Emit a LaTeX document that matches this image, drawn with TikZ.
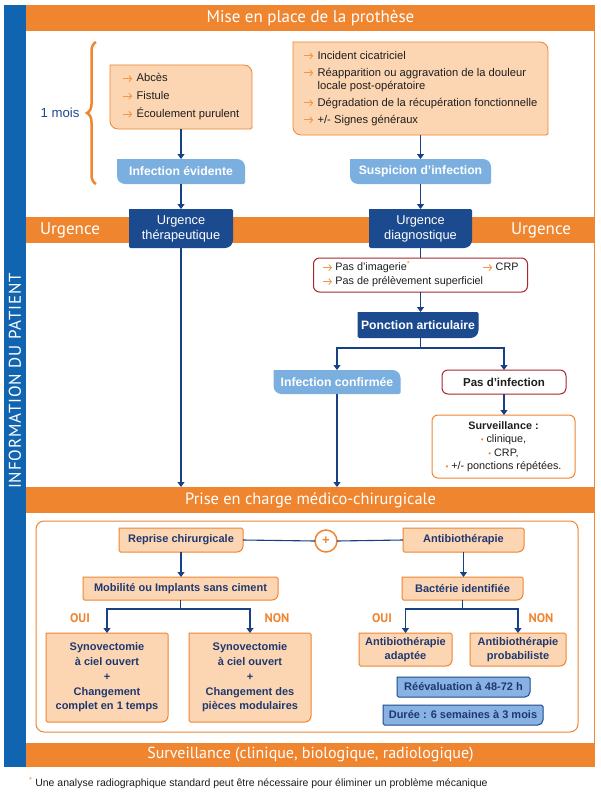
\documentclass[tikz,border=0pt]{standalone}
\usepackage{fontspec}
\setmainfont{Liberation Sans}
\newfontfamily\hdr{PT Sans}
\usetikzlibrary{arrows.meta,decorations.pathreplacing,calc}
\pgfdeclarelayer{bg}
\pgfdeclarelayer{boxes}
\pgfsetlayers{bg,boxes,main}
\definecolor{orbg}{RGB}{240,133,48}
\definecolor{orarr}{RGB}{243,150,70}
\definecolor{barblue}{RGB}{17,101,176}
\definecolor{dblue}{RGB}{28,74,142}
\definecolor{lblue}{RGB}{122,175,223}
\definecolor{lorange}{RGB}{252,214,178}
\definecolor{conn}{RGB}{24,64,132}
\definecolor{dred}{RGB}{172,38,44}
\definecolor{navy}{RGB}{32,56,112}
\definecolor{txt}{RGB}{30,30,30}
\definecolor{rblue}{RGB}{137,178,228}
\newcommand\ar{\tikz[x=1pt,y=1pt,baseline=-3.2pt]\draw[orarr,line width=0.9pt,-{Straight Barb[length=2.6pt,width=6pt]}] (0,0) -- (9,0);}
\newcommand\bul{\textcolor{orbg}{\fontsize{8}{8}\selectfont •}\ }
\newcommand\tlbr[3][8pt]{\begin{pgfonlayer}{boxes}\path[#3] (#2.west) -- (#2.north west) [rounded corners=#1] -- (#2.north east) [rounded corners=1.5pt] -- (#2.south east) [rounded corners=#1] -- (#2.south west) [rounded corners=1.5pt] -- cycle;\end{pgfonlayer}}
\newcommand\trbl[3][8pt]{\begin{pgfonlayer}{boxes}\path[#3] (#2.west) -- (#2.north west) [rounded corners=1.5pt] -- (#2.north east) [rounded corners=#1] -- (#2.south east) [rounded corners=1.5pt] -- (#2.south west) [rounded corners=#1] -- cycle;\end{pgfonlayer}}
\tikzset{
  every node/.style={inner sep=0pt,outer sep=0pt},
  sz/.style 2 args={minimum width=#1pt,minimum height=#2pt},
  band/.style={fill=orbg,minimum width=569pt,text=white,font=\hdr\fontsize{17}{20}\selectfont},
  link/.style={draw=conn,line width=1.1pt},
  linkarrow/.style={link,-{Triangle[width=7pt,length=5pt]}},
  listtxt/.style={text=txt,font=\fontsize{11.2}{13}\selectfont},
  whitebold/.style={text=white,font=\bfseries\fontsize{12.2}{14}\selectfont},
  whitereg/.style={text=white,align=center,font=\fontsize{12.8}{15}\selectfont},
  lobox/.style={text=navy,align=center,font=\bfseries\fontsize{11}{14.8}\selectfont},
  redbox/.style={draw=dred,fill=white,line width=1pt,rounded corners=6pt},
  yesno/.style={text=orbg,font=\hdr\bfseries\fontsize{12.5}{14}\selectfont},
}
\begin{document}
\begin{tikzpicture}[x=1pt,y=-1pt]
\useasboundingbox (0,0) rectangle (600,792);
\begin{pgfonlayer}{bg}
\fill[white] (0,0) rectangle (600,792);
\node[fill=barblue,sz={22}{762}] (bar) at (15,386) {};
\node[band,minimum height=26pt] (head) at (310.5,18) {Mise en place de la prothèse};
\node[band,minimum height=26pt] (urg) at (310.5,230) {};
\node[band,minimum height=26pt,font=\hdr\fontsize{16.4}{20}\selectfont] (prise) at (310.5,500) {Prise en charge médico-chirurgicale};
\node[band,minimum height=24pt,font=\hdr\fontsize{16}{20}\selectfont] (surv) at (310.5,755) {Surveillance (clinique, biologique, radiologique)};
\draw[orbg,line width=1pt] ([xshift=-0.5pt]head.south east) -- ([xshift=-0.5pt]surv.north east);
\node[draw=orbg,line width=1pt,rounded corners=8pt,fill=white,sz={542}{211}] (inner) at (307,626.5) {};
\end{pgfonlayer}

\node[rotate=90,text=white,font=\hdr\fontsize{17}{20}\selectfont\addfontfeature{LetterSpace=5}] (info) at (15,381) {INFORMATION DU PATIENT};
\node[text=white,font=\hdr\fontsize{17}{20}\selectfont] (urgL) at (70,230) {Urgence};
\node[text=white,font=\hdr\fontsize{17}{20}\selectfont] (urgR) at (541,230) {Urgence};

% brace and 1 mois
\node[text=dblue,font=\fontsize{13.2}{15}\selectfont] (mois) at (60,113) {1 mois};
\draw[orbg,line width=2.5pt,decorate,decoration={brace,amplitude=9pt}] (96,184) -- (96,42);

% top boxes
\node[listtxt,sz={142}{64}] (a1) at (181,97) {\begin{tabular}{@{}l@{\hspace{4pt}}l@{}}\ar & Abcès\\[4.5pt]\ar & Fistule\\[4.5pt]\ar & Écoulement purulent\end{tabular}};
\tlbr{a1}{fill=lorange,draw=orbg,line width=0.8pt}
\node[listtxt,sz={255}{93}] (a2) at (420.5,88.5) {\begin{tabular}{@{}l@{\hspace{4pt}}l@{}}\ar & Incident cicatriciel\\[4pt]\ar & Réapparition ou aggravation de la douleur\\ & locale post-opératoire\\[4pt]\ar & Dégradation de la récupération fonctionnelle\\[4pt]\ar & +/- Signes généraux\end{tabular}};
\tlbr{a2}{fill=lorange,draw=orbg,line width=0.8pt}

\node[whitebold,sz={128}{25}] (ie) at (181,171.5) {Infection évidente};
\tlbr{ie}{fill=lblue}
\node[whitebold,sz={141}{25}] (si) at (420.5,171.5) {Suspicion d’infection};
\tlbr{si}{fill=lblue}

\node[whitereg,sz={104}{39}] (ut) at (181,228.5) {Urgence\\thérapeutique};
\trbl{ut}{fill=dblue}
\node[whitereg,sz={103}{39}] (ud) at (420.5,228.5) {Urgence\\diagnostique};
\trbl{ud}{fill=dblue}

\node[redbox,text=txt,font=\fontsize{10.8}{14}\selectfont,sz={214}{34}] (rb) at (420.5,275) {\begin{tabular}{@{}l@{}}\makebox[196pt][l]{\ar\hspace{3pt}Pas d’imagerie\textsuperscript{\textcolor{orbg}{*}}\hfill\ar\hspace{3pt}CRP}\\\ar\hspace{3pt}Pas de prélèvement superficiel\end{tabular}};

\node[whitebold,sz={121}{26}] (pa) at (418,325) {Ponction articulaire};
\trbl{pa}{fill=dblue}

\node[whitebold,sz={127}{24}] (ic) at (337,382) {Infection confirmée};
\tlbr{ic}{fill=lblue}
\node[redbox,text=txt,font=\bfseries\fontsize{11.5}{14}\selectfont,sz={124}{24}] (pi) at (504,382) {Pas d’infection};

\node[draw=orbg,fill=white,line width=1pt,rounded corners=6pt,sz={143}{63},align=center,text=txt,font=\fontsize{10.8}{13.5}\selectfont] (sv) at (503.5,446.5) {\textbf{Surveillance :}\\\bul clinique,\\\bul CRP,\\\bul +/- ponctions répétées.};

% lower section
\node[lobox,sz={124}{24}] (rc) at (181,540) {Reprise chirurgicale};
\trbl[6pt]{rc}{fill=lorange,draw=orbg,line width=1pt}
\node[circle,draw=orbg,fill=white,line width=1.5pt,minimum size=22pt,text=orbg,font=\bfseries\fontsize{13}{13}\selectfont] (pl) at (326,541) {+};
\node[lobox,sz={121}{24}] (ab) at (463.5,540) {Antibiothérapie};
\trbl[6pt]{ab}{fill=lorange,draw=orbg,line width=1pt}
\node[lobox,sz={195}{23}] (mo) at (180.5,588.5) {Mobilité ou Implants sans ciment};
\trbl[6pt]{mo}{fill=lorange,draw=orbg,line width=1pt}
\node[lobox,sz={121}{23}] (bi) at (462.5,588.5) {Bactérie identifiée};
\trbl[6pt]{bi}{fill=lorange,draw=orbg,line width=1pt}

\node[yesno] (oui1) at (80,618) {OUI};
\node[yesno] (non1) at (277,618) {NON};
\node[yesno] (oui2) at (382,618) {OUI};
\node[yesno] (non2) at (541,618) {NON};

\node[lobox,sz={122}{89}] (s1) at (107,677.5) {Synovectomie\\à ciel ouvert\\+\\Changement\\complet en 1 temps};
\trbl[6pt]{s1}{fill=lorange,draw=orbg,line width=1pt}
\node[lobox,sz={122}{89}] (s2) at (250,677.5) {Synovectomie\\à ciel ouvert\\+\\Changement des\\pièces modulaires};
\trbl[6pt]{s2}{fill=lorange,draw=orbg,line width=1pt}
\node[lobox,font=\bfseries\fontsize{11}{14}\selectfont,sz={93}{33}] (aa) at (405.5,649.5) {Antibiothérapie\\adaptée};
\trbl[6pt]{aa}{fill=lorange,draw=orbg,line width=1pt}
\node[lobox,font=\bfseries\fontsize{11}{14}\selectfont,sz={96}{33}] (ap) at (518,649.5) {Antibiothérapie\\probabiliste};
\trbl[6pt]{ap}{fill=lorange,draw=orbg,line width=1pt}
\node[lobox,sz={133}{20}] (re) at (463.5,687) {Réévaluation à 48-72 h};
\trbl[5pt]{re}{fill=rblue,draw=dblue,line width=1pt}
\node[lobox,sz={160}{20}] (du) at (463,715) {Durée : 6 semaines à 3 mois};
\trbl[5pt]{du}{fill=rblue,draw=dblue,line width=1pt}

\node[anchor=west,text=txt,font=\fontsize{10.5}{12}\selectfont] (fn) at (29,783) {\textsuperscript{\textcolor{orbg}{*}} Une analyse radiographique standard peut être nécessaire pour éliminer un problème mécanique};

% connectors
\draw[linkarrow] (a1.south) -- (a1.south |- ie.north);
\draw[linkarrow] (ie.south) -- (ie.south |- ut.north);
\draw[linkarrow] (ut.south) -- (ut.south |- prise.north);
\draw[linkarrow] (a2.south) -- (a2.south |- si.north);
\draw[linkarrow] (si.south) -- (si.south |- ud.north);
\draw[link] (ud.south) -- (ud.south |- rb.north);
\draw[linkarrow] (rb.south) -- (rb.south |- pa.north);
\coordinate (sp1) at (420.5,348);
\draw[link] (pa.south -| sp1) -- (sp1);
\draw[linkarrow] (sp1) -| (ic.north);
\draw[linkarrow] (sp1) -| (pi.north);
\draw[linkarrow] (ic.south) -- (ic.south |- prise.north);
\draw[linkarrow] (pi.south) -- (pi.south |- sv.north);

\draw[link] (rc.east) -- (pl.west);
\draw[link] (pl.east) -- (ab.west);
\draw[linkarrow] (rc.south) -- (rc.south |- mo.north);
\draw[linkarrow] (ab.south) -- (ab.south |- bi.north);
\coordinate (sp2) at (180.5,609);
\draw[link] (mo.south) -- (sp2);
\draw[linkarrow] (sp2) -| (s1.north);
\draw[linkarrow] (sp2) -| (s2.north);
\coordinate (sp3) at (462.5,609);
\draw[link] (bi.south) -- (sp3);
\draw[linkarrow] (sp3) -| (aa.north);
\draw[linkarrow] (sp3) -| (ap.north);
\end{tikzpicture}
\end{document}
